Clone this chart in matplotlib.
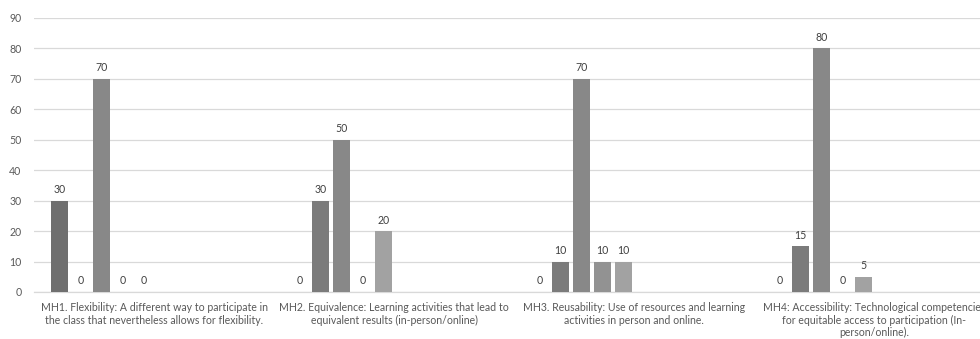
import numpy as np
import matplotlib
matplotlib.use('Agg')
import matplotlib.pyplot as plt

plt.rcParams['font.family'] = ['Lato', 'DejaVu Sans']

categories = [
    'MH1. Flexibility: A different way to participate in\nthe class that nevertheless allows for flexibility.',
    'MH2. Equivalence: Learning activities that lead to\nequivalent results (in-person/online)',
    'MH3. Reusability: Use of resources and learning\nactivities in person and online.',
    'MH4: Accessibility: Technological competencies\nfor equitable access to participation (In-\nperson/online).',
]
series = [
    [30, 0, 0, 0],
    [0, 30, 10, 15],
    [70, 50, 70, 80],
    [0, 0, 10, 0],
    [0, 20, 10, 5],
]
colors = ['#6f6f6f', '#7b7b7b', '#888888', '#929292', '#a2a2a2']
yticks = list(range(0, 100, 10))

text_color = '#595959'
grid_color = '#d9d9d9'

fig = plt.figure(figsize=(9.8, 3.39), dpi=100)
# axis runs a little past the right edge of the figure
ax = fig.add_axes([34 / 980, 47 / 339, 960 / 980, 274 / 339])

x = np.arange(len(categories))
slot = 0.0875
width = 0.0667
for i, (vals, c) in enumerate(zip(series, colors)):
    pos = x + (i - 4.5) * slot
    bars = ax.bar(pos, vals, width=width, color=c, zorder=3)
    for b, v in zip(bars, vals):
        ax.annotate(str(v), (b.get_x() + b.get_width() / 2, v),
                    xytext=(0, 4), textcoords='offset points',
                    ha='center', va='bottom', fontsize=7.6, color='#404040')

ax.set_xlim(-0.5, len(categories) - 0.5)
ax.set_ylim(0, 90)
ax.set_yticks(yticks)
ax.set_xticks(x)
ax.set_xticklabels(categories, fontsize=7.6, color=text_color, linespacing=1.2)
ax.tick_params(axis='y', length=0, labelsize=7.6, colors=text_color, pad=9)
ax.tick_params(axis='x', length=0, colors=text_color, pad=7)
ax.grid(axis='y', color=grid_color, linewidth=0.9, zorder=0)
for s in ['top', 'right', 'left']:
    ax.spines[s].set_visible(False)
ax.spines['bottom'].set_color(grid_color)
ax.spines['bottom'].set_linewidth(0.9)

fig.savefig('out.png', dpi=100)
